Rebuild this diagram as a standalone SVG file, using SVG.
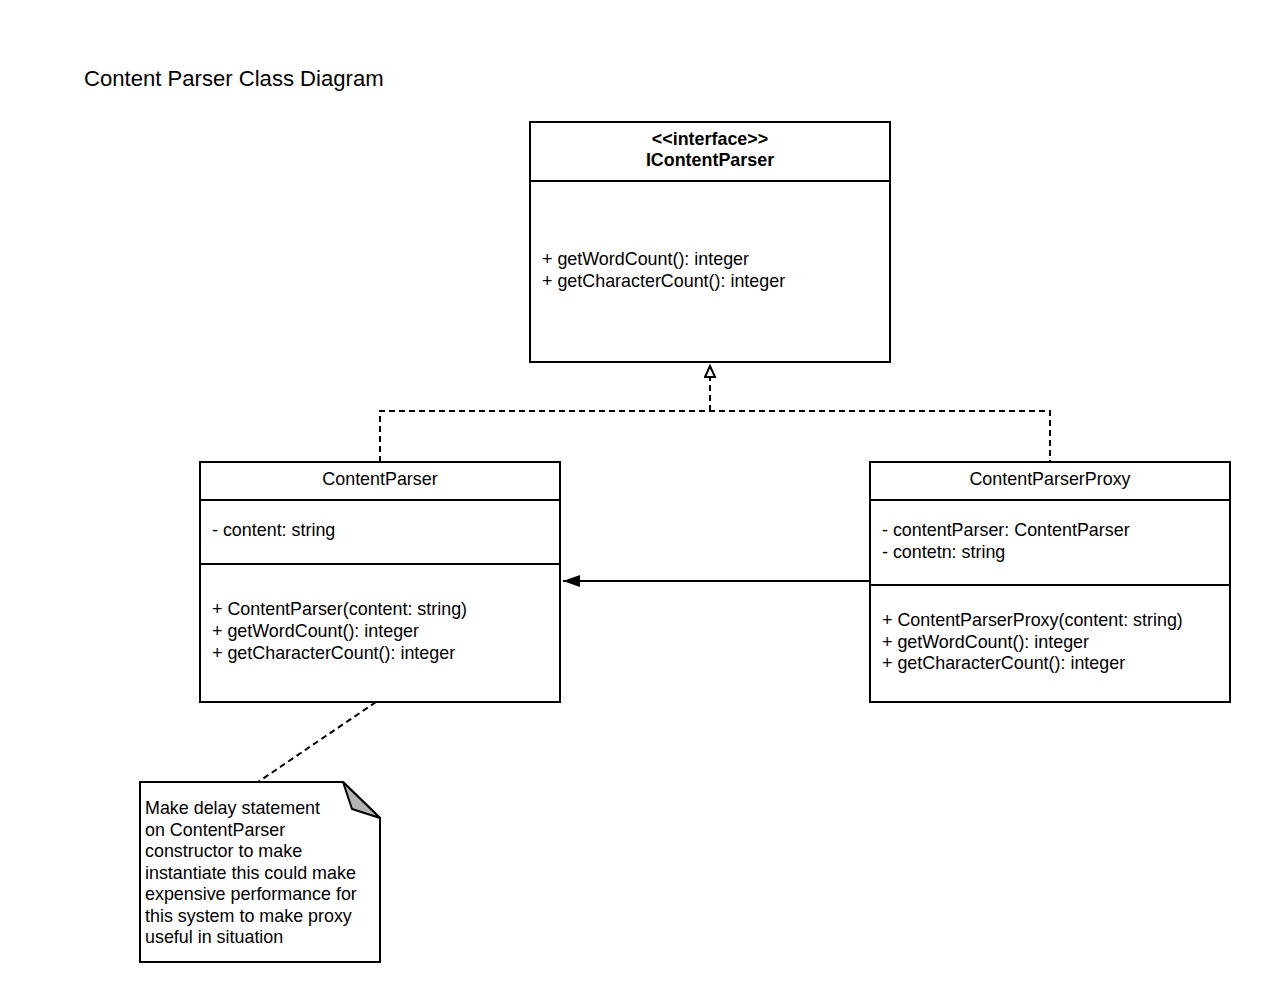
<svg xmlns="http://www.w3.org/2000/svg" width="1270" height="1002" viewBox="0 0 1270 1002">
<style>
text{font-family:"Liberation Sans",Arial,sans-serif;font-size:17.9px;fill:#000}
.t{font-size:22.1px}
.b{font-weight:bold}
.box{fill:#fff;stroke:#000;stroke-width:2}
.ln{stroke:#000;stroke-width:2;fill:none}
.dash{stroke:#000;stroke-width:2;fill:none;stroke-dasharray:6,4}
</style>
<defs>
<marker id="open" markerWidth="14" markerHeight="20" refX="12" refY="6" orient="auto" markerUnits="userSpaceOnUse">
<path d="M1,1 L12,6 L1,11 Z" fill="#fff" stroke="#000" stroke-width="2"/>
</marker>
<marker id="fill" markerWidth="20" markerHeight="16" refX="17" refY="7" orient="auto" markerUnits="userSpaceOnUse">
<path d="M0,1 L17,7 L0,13 Z" fill="#000"/>
</marker>
</defs>
<rect width="1270" height="1002" fill="#fff"/>
<text class="t" x="84" y="86">Content Parser Class Diagram</text>

<g id="connectors">
<path class="dash" d="M380,462 V411 H1050 V462"/>
<path class="dash" d="M710,411 V366" marker-end="url(#open)"/>
<path class="ln" d="M870,581 H563" marker-end="url(#fill)"/>
<path class="dash" d="M376,702 L258,782"/>
</g>

<g id="IContentParser">
<rect class="box" x="530" y="122" width="360" height="240"/>
<line class="ln" x1="530" y1="181" x2="890" y2="181"/>
<text class="b" x="710" y="145" text-anchor="middle">&lt;&lt;interface&gt;&gt;</text>
<text class="b" x="710" y="166" text-anchor="middle">IContentParser</text>
<text x="542" y="265">+ getWordCount(): integer</text>
<text x="542" y="287">+ getCharacterCount(): integer</text>
</g>

<g id="ContentParser">
<rect class="box" x="200" y="462" width="360" height="240"/>
<line class="ln" x1="200" y1="500" x2="560" y2="500"/>
<line class="ln" x1="200" y1="564" x2="560" y2="564"/>
<text x="380" y="485" text-anchor="middle">ContentParser</text>
<text x="212" y="536">- content: string</text>
<text x="212" y="615">+ ContentParser(content: string)</text>
<text x="212" y="637">+ getWordCount(): integer</text>
<text x="212" y="659">+ getCharacterCount(): integer</text>
</g>

<g id="ContentParserProxy">
<rect class="box" x="870" y="462" width="360" height="240"/>
<line class="ln" x1="870" y1="500" x2="1230" y2="500"/>
<line class="ln" x1="870" y1="585" x2="1230" y2="585"/>
<text x="1050" y="485" text-anchor="middle">ContentParserProxy</text>
<text x="882" y="536">- contentParser: ContentParser</text>
<text x="882" y="558">- contetn: string</text>
<text x="882" y="626">+ ContentParserProxy(content: string)</text>
<text x="882" y="648">+ getWordCount(): integer</text>
<text x="882" y="669">+ getCharacterCount(): integer</text>
</g>

<g id="note">
<path class="box" d="M140,782 H343 L380,818 V962 H140 Z"/>
<path d="M343,782 L352,809 L380,818 Z" fill="#b3b3b3" stroke="#000" stroke-width="2" stroke-linejoin="round"/>
<text x="145" y="814">Make delay statement</text>
<text x="145" y="836">on ContentParser</text>
<text x="145" y="857">constructor to make</text>
<text x="145" y="879">instantiate this could make</text>
<text x="145" y="900">expensive performance for</text>
<text x="145" y="922">this system to make proxy</text>
<text x="145" y="943">useful in situation</text>
</g>
</svg>
